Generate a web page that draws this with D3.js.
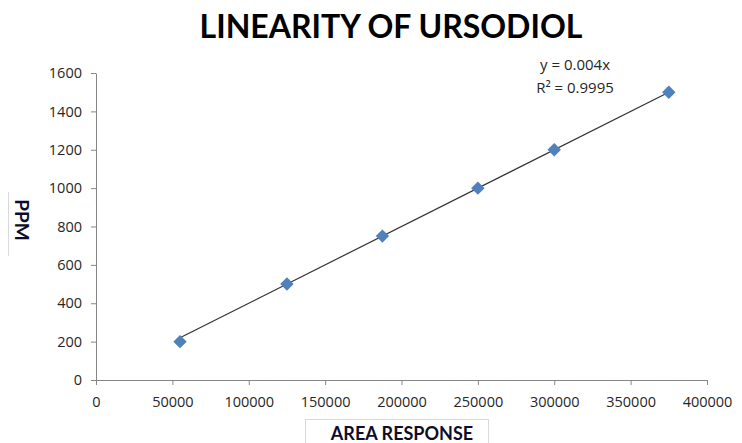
<!DOCTYPE html>
<html>
<head>
<meta charset="utf-8">
<script src="https://cdn.jsdelivr.net/npm/d3@7"></script>
<style>
  body { margin: 0; background: #fff; }
  svg text { font-family: "Open Sans", Lato, sans-serif; }
</style>
</head>
<body>
<svg id="chart" width="742" height="443"></svg>
<script>
// area response vs concentration (ppm)
var areaResponse = [55000, 125000, 187500, 250000, 300000, 375000];
var ppmValues = [200, 500, 750, 1000, 1200, 1500];
var xTicks = [0, 50000, 100000, 150000, 200000, 250000, 300000, 350000, 400000];
var yTicks = [0, 200, 400, 600, 800, 1000, 1200, 1400, 1600];
var slope = 0.004;
var equationLines = ["y = 0.004x", "R² = 0.9995"];

var svg = d3.select("#chart");

var x = d3.scaleLinear().domain([0, 400000]).range([96, 707]);
var y = d3.scaleLinear().domain([0, 1600]).range([380, 73]);

// title
svg.append("text")
  .attr("x", 391).attr("y", 38)
  .attr("text-anchor", "middle")
  .style("font-family", "Lato, sans-serif")
  .style("font-size", "32px").style("font-weight", "bold")
  .attr("fill", "#000")
  .text("LINEARITY OF URSODIOL");

// axes
var xAxis = svg.append("g")
  .attr("transform", "translate(0," + y(0) + ")")
  .call(d3.axisBottom(x).tickValues(xTicks).tickSize(5).tickSizeOuter(0).tickFormat(d3.format("d")));

var yAxis = svg.append("g")
  .attr("transform", "translate(" + x(0) + ",0)")
  .call(d3.axisLeft(y).tickValues(yTicks).tickSize(5).tickSizeOuter(0).tickFormat(d3.format("d")));

[xAxis, yAxis].forEach(function(g){
  g.select(".domain").attr("stroke", "#868686");
  g.selectAll(".tick line").attr("stroke", "#868686");
  g.selectAll(".tick text")
    .attr("fill", "#262626")
    .style("font-size", "14.5px")
    .style("font-family", "'Open Sans', sans-serif");
});
xAxis.selectAll(".tick text").attr("y", 12).attr("dy", "1em");
yAxis.selectAll(".tick text").attr("x", -14);

// trend line y = 0.004x
var ext = d3.extent(areaResponse);
svg.append("line")
  .attr("x1", x(ext[0])).attr("y1", y(slope * ext[0]))
  .attr("x2", x(ext[1])).attr("y2", y(slope * ext[1]))
  .attr("stroke", "#333").attr("stroke-width", 1.2);

// points
var diamond = d3.symbol().type(d3.symbolDiamond2).size(115);
svg.selectAll(".pt")
  .data(areaResponse)
  .enter()
  .append("path")
  .attr("class", "pt")
  .attr("d", diamond)
  .attr("transform", function(d, i){ return "translate(" + x(d) + "," + y(ppmValues[i]) + ")"; })
  .attr("fill", "#4F81BD");

// equation label
svg.selectAll(".eq")
  .data(equationLines)
  .enter()
  .append("text")
  .attr("class", "eq")
  .attr("x", 575)
  .attr("y", function(d, i){ return 70 + i * 23; })
  .attr("text-anchor", "middle")
  .style("font-size", "15px")
  .attr("fill", "#262626")
  .text(function(d){ return d; });

// axis titles (Excel-style text boxes)
svg.append("line")
  .attr("x1", 8.5).attr("y1", 192).attr("x2", 8.5).attr("y2", 256)
  .attr("stroke", "#d9d9d9");
svg.append("text")
  .attr("transform", "translate(15,220) rotate(90)")
  .attr("text-anchor", "middle")
  .style("font-family", "Lato, sans-serif")
  .style("font-size", "19px").style("font-weight", "bold")
  .attr("fill", "#0d0d2b")
  .text("PPM");

svg.append("rect")
  .attr("x", 305.5).attr("y", 419.5).attr("width", 183).attr("height", 40)
  .attr("fill", "none").attr("stroke", "#d9d9d9");
svg.append("text")
  .attr("x", 402).attr("y", 440)
  .attr("text-anchor", "middle")
  .style("font-family", "Lato, sans-serif")
  .style("font-size", "18px").style("font-weight", "bold")
  .attr("fill", "#0d0d2b")
  .text("AREA RESPONSE");
</script>
</body>
</html>
